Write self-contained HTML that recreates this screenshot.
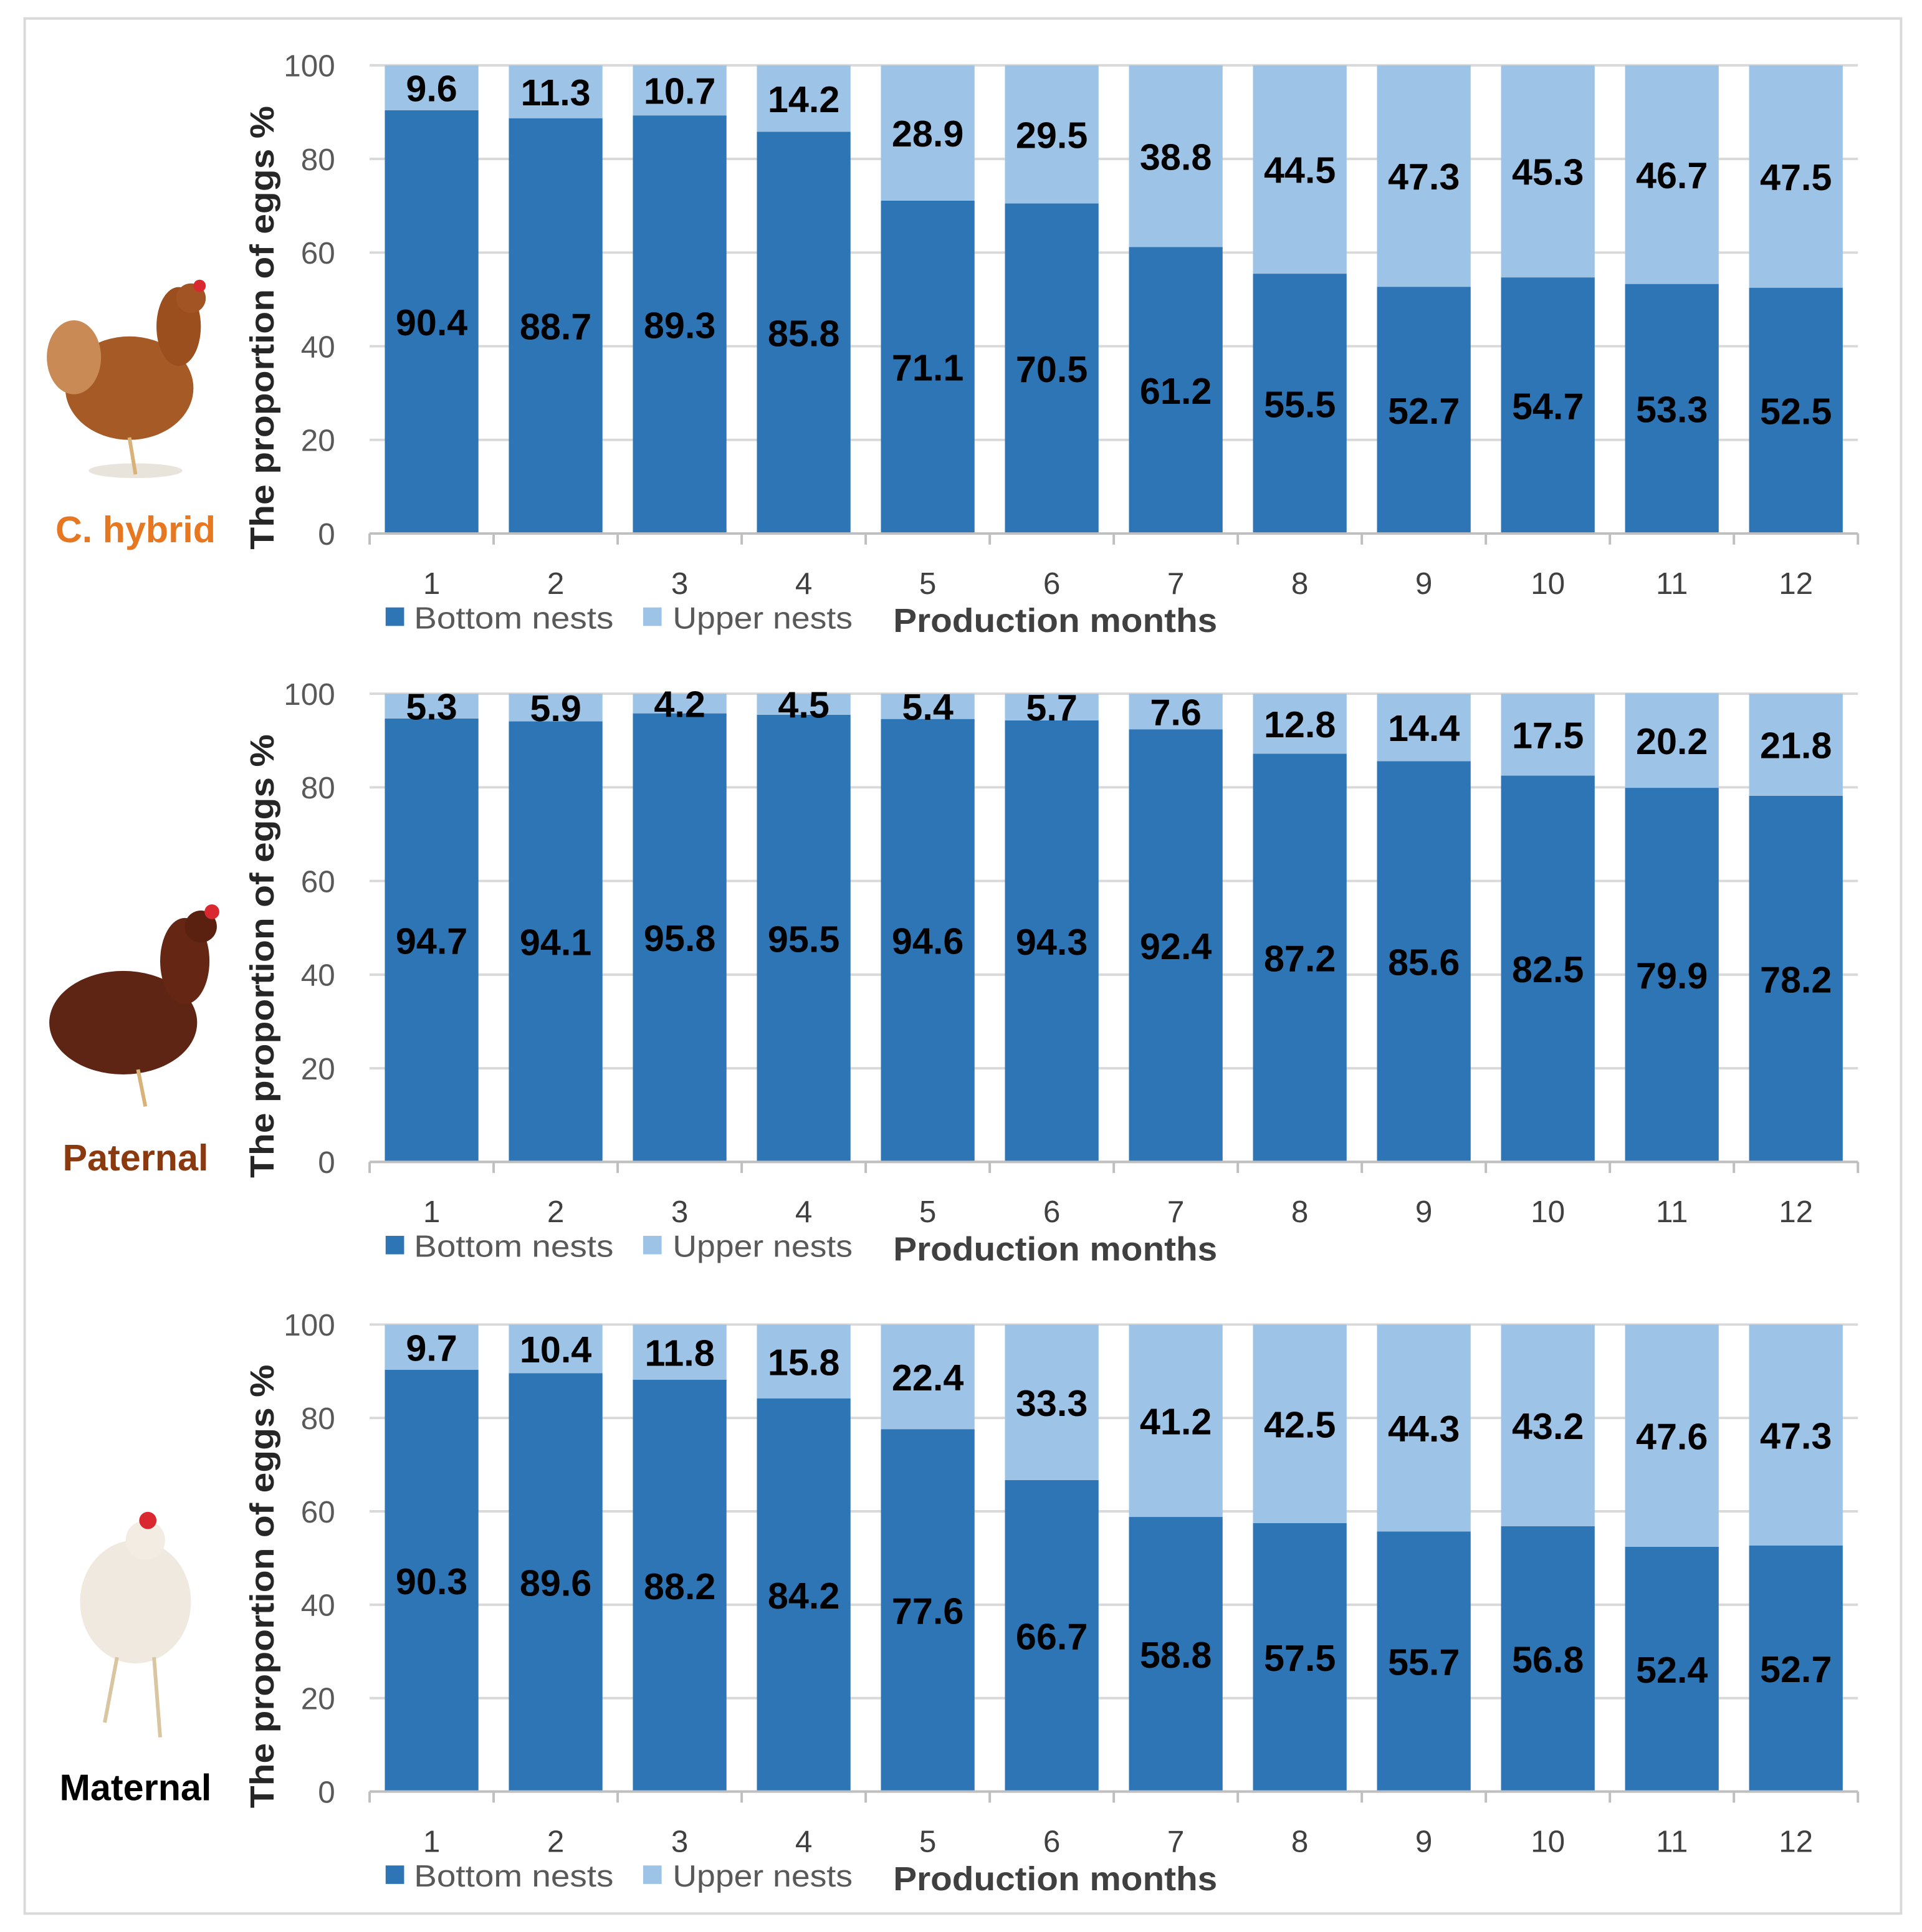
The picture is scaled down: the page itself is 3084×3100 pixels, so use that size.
<!DOCTYPE html>
<html><head><meta charset="utf-8"><style>
html,body{margin:0;padding:0;background:#fff;}
svg{display:block;}
text{font-family:"Liberation Sans",sans-serif;}
</style></head><body>
<svg id="fig" width="3084" height="3100" viewBox="0 0 1560 1568" preserveAspectRatio="none" xmlns="http://www.w3.org/2000/svg">
<rect x="20" y="15" width="1523" height="1538" fill="#fff" stroke="#d9d9d9" stroke-width="2"/>
<g id="hens">
 <g>
  <ellipse cx="110" cy="382" rx="38" ry="6" fill="#e8e4dc"/>
  <ellipse cx="105" cy="315" rx="52" ry="42" fill="#a65a25"/>
  <ellipse cx="60" cy="290" rx="22" ry="30" fill="#c98a55"/>
  <ellipse cx="145" cy="265" rx="18" ry="32" fill="#9c4f1e"/>
  <circle cx="155" cy="242" r="12" fill="#a35424"/>
  <circle cx="162" cy="232" r="5" fill="#d9282f"/>
  <line x1="105" y1="355" x2="110" y2="385" stroke="#d9b27a" stroke-width="3"/>
 </g>
 <g>
  <ellipse cx="100" cy="830" rx="60" ry="42" fill="#5e2414"/>
  <ellipse cx="150" cy="780" rx="20" ry="35" fill="#652714"/>
  <circle cx="163" cy="752" r="13" fill="#5a2010"/>
  <circle cx="172" cy="740" r="6" fill="#d9282f"/>
  <line x1="112" y1="868" x2="118" y2="898" stroke="#d9b27a" stroke-width="3"/>
 </g>
 <g>
  <ellipse cx="110" cy="1300" rx="45" ry="50" fill="#efe9df"/>
  <circle cx="118" cy="1250" r="16" fill="#f2ece3"/>
  <circle cx="120" cy="1234" r="7" fill="#d9282f"/>
  <line x1="95" y1="1345" x2="85" y2="1398" stroke="#d9c6a0" stroke-width="3"/>
  <line x1="125" y1="1345" x2="130" y2="1410" stroke="#d9c6a0" stroke-width="3"/>
 </g>
</g>
<g id="charts"></g>
</svg>
<script>
const months = ["1","2","3","4","5","6","7","8","9","10","11","12"];
const yTicks = [0,20,40,60,80,100];
const hybridBottom = [90.4,88.7,89.3,85.8,71.1,70.5,61.2,55.5,52.7,54.7,53.3,52.5];
const hybridUpper = [9.6,11.3,10.7,14.2,28.9,29.5,38.8,44.5,47.3,45.3,46.7,47.5];
const paternalBottom = [94.7,94.1,95.8,95.5,94.6,94.3,92.4,87.2,85.6,82.5,79.9,78.2];
const paternalUpper = [5.3,5.9,4.2,4.5,5.4,5.7,7.6,12.8,14.4,17.5,20.2,21.8];
const maternalBottom = [90.3,89.6,88.2,84.2,77.6,66.7,58.8,57.5,55.7,56.8,52.4,52.7];
const maternalUpper = [9.7,10.4,11.8,15.8,22.4,33.3,41.2,42.5,44.3,43.2,47.6,47.3];
const panelNames = ["C. hybrid","Paternal","Maternal"];

const NS="http://www.w3.org/2000/svg";
const root=document.getElementById('charts');
function mk(tag,attrs,parent,txt){const e=document.createElementNS(NS,tag);for(const k in attrs)e.setAttribute(k,attrs[k]);if(txt!==undefined)e.textContent=txt;parent.appendChild(e);return e;}

const panels=[
 {top:53,bot:433,bottom:hybridBottom,upper:hybridUpper,color:"#E87722",labelY:440,id:"hybrid"},
 {top:563,bot:943,bottom:paternalBottom,upper:paternalUpper,color:"#8B3A0F",labelY:950,id:"paternal"},
 {top:1075,bot:1454,bottom:maternalBottom,upper:maternalUpper,color:"#000",labelY:1461,id:"maternal"}
];
const X0=300,X1=1508;
panels.forEach((p,pi)=>{
 const g=mk('g',{},root);
 
 
 const y=v=>p.bot-(v/100)*(p.bot-p.top);
 const band=(X1-X0)/months.length;
 const xc=i=>X0+band*(i+0.5);
 yTicks.forEach(t=>{
  const l=mk('line',{x1:X0,x2:X1,y1:y(t),y2:y(t),stroke:"#d9d9d9","stroke-width":2},g);
  
  
  const tx=mk('text',{x:272,y:y(t)+9,"text-anchor":"end","font-size":25,fill:"#595959"},g,String(t));
  
  
 });
 months.forEach((m,i)=>{
  const bw=76;
  const r1=mk('rect',{x:xc(i)-bw/2,y:y(p.bottom[i]),width:bw,height:p.bot-y(p.bottom[i]),fill:"#2E75B6"},g);
  
  
  const r2=mk('rect',{x:xc(i)-bw/2,y:y(p.bottom[i]+p.upper[i]),width:bw,height:y(p.bottom[i])-y(p.bottom[i]+p.upper[i]),fill:"#9DC3E6"},g);
  
  
  const l1=mk('text',{x:xc(i),y:(y(p.bottom[i])+p.bot)/2+11,"text-anchor":"middle","font-size":30,"font-weight":"bold",fill:"#000"},g,p.bottom[i].toFixed(1));
  
  
  const l2=mk('text',{x:xc(i),y:(y(p.bottom[i])+y(p.bottom[i]+p.upper[i]))/2+11,"text-anchor":"middle","font-size":30,"font-weight":"bold",fill:"#000"},g,p.upper[i].toFixed(1));
  
  
  const xl=mk('text',{x:xc(i),y:p.bot+49,"text-anchor":"middle","font-size":25,fill:"#404040"},g,m);
  
  
 });
 const ax=mk('line',{x1:X0,x2:X1,y1:p.bot,y2:p.bot,stroke:"#bfbfbf","stroke-width":2},g);
 
 
 for(let i=0;i<=months.length;i++){
  const tk=mk('line',{x1:X0+band*i,x2:X0+band*i,y1:p.bot,y2:p.bot+9,stroke:"#bfbfbf","stroke-width":2},g);
  
  
 }
 const yt=mk('text',{transform:`translate(222,${(p.top+p.bot)/2+23}) rotate(-90)`,"text-anchor":"middle","font-size":27,"font-weight":"bold",fill:"#262626",textLength:360,lengthAdjust:"spacingAndGlyphs"},g,"The proportion of eggs %");
 
 
 const ly=p.bot+77;
 const s1=mk('rect',{x:313,y:ly-17,width:15,height:15,fill:"#2E75B6"},g);
 
 
 const t1=mk('text',{x:336,y:ly,"font-size":25,fill:"#595959",textLength:162,lengthAdjust:"spacingAndGlyphs"},g,"Bottom nests");
 
 
 const s2=mk('rect',{x:522,y:ly-17,width:15,height:15,fill:"#9DC3E6"},g);
 
 
 const t2=mk('text',{x:546,y:ly,"font-size":25,fill:"#595959",textLength:146,lengthAdjust:"spacingAndGlyphs"},g,"Upper nests");
 
 
 const xt=mk('text',{x:725,y:ly+3,"font-size":27,"font-weight":"bold",fill:"#404040",textLength:263,lengthAdjust:"spacingAndGlyphs"},g,"Production months");
 
 
 const nm=mk('text',{x:110,y:p.labelY,"text-anchor":"middle","font-size":30,"font-weight":"bold",fill:p.color},g,panelNames[pi]);
 
 
});
</script>
</body></html>
